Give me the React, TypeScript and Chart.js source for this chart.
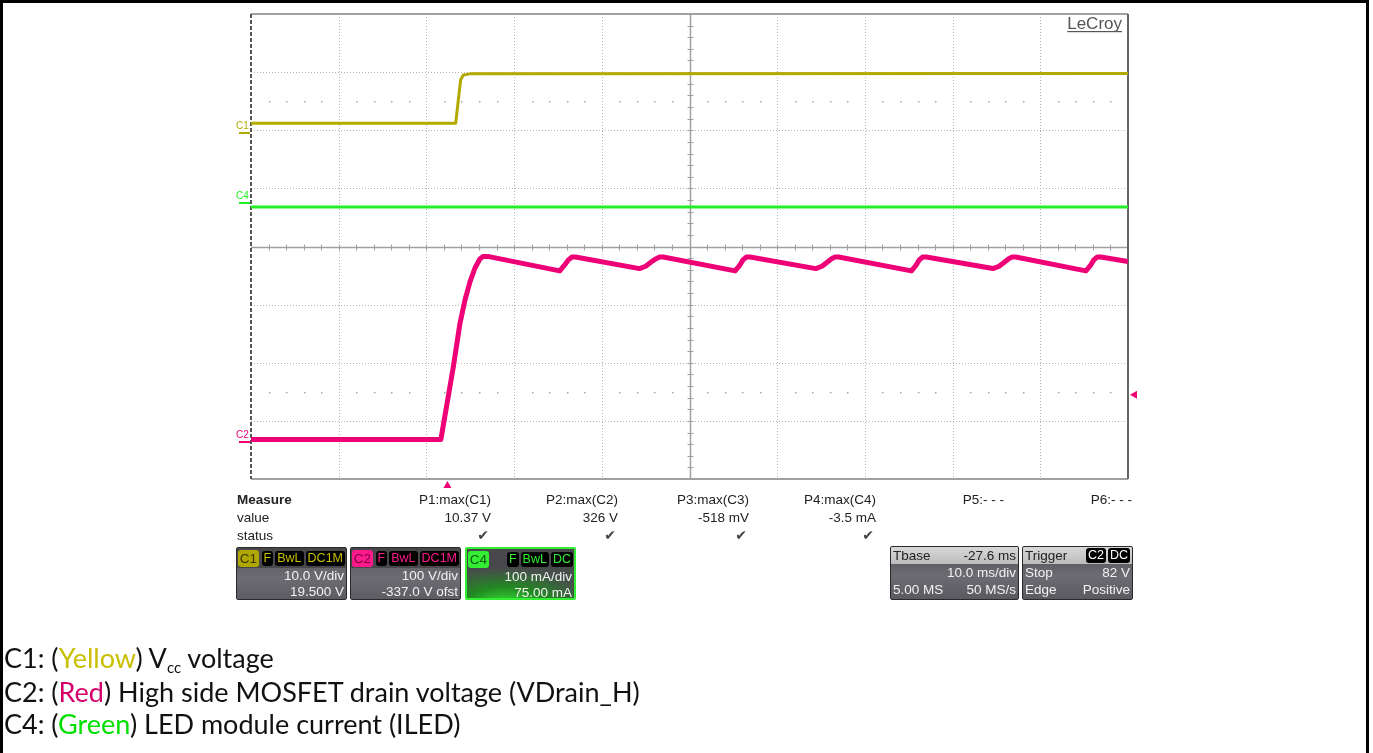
import React, { useEffect, useRef } from "react";
import { Chart, registerables } from "chart.js";

Chart.register(...registerables);

// ---------------- data ----------------
// time base: 10 ms/div, trigger at t = 0 (Tbase -27.6 ms)
const TIME_MIN_MS = -22.4;
const TIME_MAX_MS = 77.6;
const MS_PER_DIV = 10;

// C1: Vcc voltage (V)
const C1_TIME_MS = [-22.4, 0.94, 1.24, 1.51, 1.81, 2.57, 77.6];
const C1_VOLTS = [1.7, 1.7, 5.7, 9.2, 10.0, 10.2, 10.25];

// C4: LED module current (mA)
const C4_TIME_MS = [-22.4, 77.6];
const C4_MA = [-7, -7];

// C2: high side MOSFET drain voltage (V)
const C2_TIME_MS = [
  -22.4, -0.75, 0.67, 1.43, 2.0, 2.57, 3.14, 3.71, 4.1, 4.6,
  12.8, 13.3, 13.8, 14.2, 14.6,
  21.9, 22.6, 23.2, 23.8, 24.2, 24.6,
  32.8, 33.3, 33.7, 34.1, 34.5,
  42.0, 42.7, 43.3, 43.8, 44.2, 44.6,
  52.9, 53.4, 53.8, 54.2, 54.6,
  62.2, 62.9, 63.5, 64.0, 64.4, 64.8,
  72.8, 73.3, 73.7, 74.1, 74.5,
  77.6,
];
const C2_VOLTS = [
  5, 5, 130, 205, 245, 276, 300, 316, 320, 320,
  295, 304, 314, 319, 319,
  299, 303, 310, 316, 319, 319,
  295, 304, 314, 319, 319,
  299, 303, 310, 316, 319, 319,
  295, 304, 314, 319, 319,
  299, 303, 310, 316, 319, 319,
  295, 304, 314, 319, 319,
  311,
];

// channel settings: C1 (V), C2 (V), C4 (mA)
const CHANNELS = ["C1", "C2", "C4"];
const CH_PER_DIV = [10, 100, 100];
const CH_OFFSET = [19.5, -337, 75];
const TRIGGER_LEVEL_V = 82;

// measurement table
const MEASURE_NAMES = ["P1:max(C1)", "P2:max(C2)", "P3:max(C3)", "P4:max(C4)", "P5:- - -", "P6:- - -"];
const MEASURE_VALUES = ["10.37 V", "326 V", "-518 mV", "-3.5 mA", "", ""];
const MEASURE_STATUS = [true, true, true, true, false, false];

// ---------------- styles ----------------
const COL_C1 = "#b3aa00";
const COL_C2 = "#ee0077";
const COL_C4 = "#22ee22";
const SANS = '"Liberation Sans", Arial, sans-serif';

const pts = (xs: number[], ys: number[]) => xs.map((x, i) => ({ x, y: ys[i] }));

const scopePlugin = {
  id: "scope",
  beforeDatasetsDraw(chart: any) {
    const { ctx, chartArea: a, scales } = chart;
    const sx = scales.x;
    const sy = scales.yDiv;
    const line = (x1: number, y1: number, x2: number, y2: number) => {
      ctx.beginPath();
      ctx.moveTo(x1, y1);
      ctx.lineTo(x2, y2);
      ctx.stroke();
    };
    ctx.save();
    // dotted grid
    ctx.strokeStyle = "#b4b4b4";
    ctx.lineWidth = 1;
    ctx.setLineDash([1, 2]);
    for (let k = 1; k < 10; k++) {
      if (k === 5) continue;
      const px = Math.round(sx.getPixelForValue(TIME_MIN_MS + k * MS_PER_DIV)) + 0.5;
      line(px, a.top, px, a.bottom);
    }
    for (let d = -3; d <= 3; d++) {
      if (d === 0) continue;
      const py = Math.round(sy.getPixelForValue(d)) + 0.5;
      line(a.left, py, a.right, py);
    }
    ctx.setLineDash([]);
    // dot rows
    ctx.fillStyle = "#a8a8a8";
    for (const d of [2.5, -2.5]) {
      const py = Math.round(sy.getPixelForValue(d));
      for (let k = 1; k < 50; k++) {
        if (k % 5 === 0) continue;
        const px = Math.round(sx.getPixelForValue(TIME_MIN_MS + k * 2));
        ctx.fillRect(px, py, 1.5, 1.5);
      }
    }
    // center cross with ticks
    ctx.strokeStyle = "#a0a0a0";
    ctx.lineWidth = 1.5;
    const cx = Math.round(sx.getPixelForValue(TIME_MIN_MS + 5 * MS_PER_DIV)) + 0.5;
    const cy = Math.round(sy.getPixelForValue(0)) + 0.5;
    line(a.left, cy, a.right, cy);
    line(cx, a.top, cx, a.bottom);
    ctx.lineWidth = 1;
    for (let k = 1; k < 50; k++) {
      const px = Math.round(sx.getPixelForValue(TIME_MIN_MS + k * 2)) + 0.5;
      line(px, cy - 3, px, cy + 3);
    }
    for (let k = -19; k < 20; k++) {
      const py = Math.round(sy.getPixelForValue(k * 0.2)) + 0.5;
      line(cx - 3, py, cx + 3, py);
    }
    // frame
    ctx.strokeStyle = "#a0a0a0";
    ctx.lineWidth = 2;
    line(a.left, a.top, a.right, a.top);
    line(a.left, a.bottom, a.right, a.bottom);
    ctx.strokeStyle = "#666";
    line(a.right, a.top, a.right, a.bottom);
    ctx.strokeStyle = "#555";
    ctx.setLineDash([4, 2]);
    line(a.left, a.top, a.left, a.bottom);
    ctx.setLineDash([]);
    // LeCroy
    ctx.font = `17px ${SANS}`;
    ctx.fillStyle = "#555";
    ctx.textAlign = "right";
    ctx.textBaseline = "alphabetic";
    ctx.fillText("LeCroy", a.right - 6, a.top + 15);
    const w = ctx.measureText("LeCroy").width;
    ctx.fillRect(a.right - 6 - w, a.top + 17, w, 1.2);
    ctx.restore();
  },
  afterDatasetsDraw(chart: any) {
    const { ctx, chartArea: a, scales } = chart;
    ctx.save();
    const cols = [COL_C1, COL_C2, COL_C4];
    const ids = ["yC1", "yC2", "yC4"];
    ctx.font = `10px ${SANS}`;
    ctx.textAlign = "left";
    ctx.textBaseline = "alphabetic";
    CHANNELS.forEach((name, i) => {
      const gy = Math.round(scales[ids[i]].getPixelForValue(0));
      ctx.fillStyle = cols[i];
      ctx.fillRect(a.left - 12, gy - 1, 11, 2);
      ctx.fillText(name, a.left - 15, gy - 4);
    });
    // trigger position marker
    ctx.fillStyle = COL_C2;
    const tx = scales.x.getPixelForValue(0);
    ctx.beginPath();
    ctx.moveTo(tx, a.bottom + 2);
    ctx.lineTo(tx - 4, a.bottom + 9);
    ctx.lineTo(tx + 4, a.bottom + 9);
    ctx.closePath();
    ctx.fill();
    // trigger level marker
    const ty = scales.yC2.getPixelForValue(TRIGGER_LEVEL_V);
    ctx.beginPath();
    ctx.moveTo(a.right + 2, ty);
    ctx.lineTo(a.right + 9, ty - 4);
    ctx.lineTo(a.right + 9, ty + 4);
    ctx.closePath();
    ctx.fill();
    ctx.restore();
  },
};

function ScopeChart() {
  const ref = useRef<HTMLCanvasElement | null>(null);
  useEffect(() => {
    if (!ref.current) return;
    const axis = (i: number) => ({
      type: "linear" as const,
      display: false,
      min: -4 * CH_PER_DIV[i] - CH_OFFSET[i],
      max: 4 * CH_PER_DIV[i] - CH_OFFSET[i],
    });
    const ds = (label: string, data: any, yAxisID: string, color: string, width: number) => ({
      label,
      data,
      yAxisID,
      showLine: true,
      borderColor: color,
      backgroundColor: color,
      borderWidth: width,
      pointRadius: 0,
      tension: 0,
      borderJoinStyle: "round" as const,
    });
    const chart = new Chart(ref.current, {
      type: "scatter",
      data: {
        datasets: [
          ds("C4", pts(C4_TIME_MS, C4_MA), "yC4", COL_C4, 3),
          ds("C1", pts(C1_TIME_MS, C1_VOLTS), "yC1", COL_C1, 3),
          ds("C2", pts(C2_TIME_MS, C2_VOLTS), "yC2", COL_C2, 5),
        ],
      },
      options: {
        responsive: false,
        animation: false,
        devicePixelRatio: 1,
        events: [],
        layout: { padding: { left: 251, top: 14, right: 245, bottom: 274 } },
        plugins: { legend: { display: false }, tooltip: { enabled: false } },
        scales: {
          x: { type: "linear", display: false, min: TIME_MIN_MS, max: TIME_MAX_MS },
          yDiv: { type: "linear", display: false, min: -4, max: 4 },
          yC1: axis(0),
          yC2: axis(1),
          yC4: axis(2),
        },
      } as any,
      plugins: [scopePlugin],
    });
    return () => chart.destroy();
  }, []);
  return (
    <canvas
      ref={ref}
      width={1373}
      height={753}
      style={{ position: "absolute", left: 0, top: 0, width: 1373, height: 753 }}
    />
  );
}

const Badge = ({ text, color, bg = "#000" }: { text: string; color: string; bg?: string }) => (
  <span
    style={{
      background: bg,
      color,
      borderRadius: 3,
      padding: "0 2px",
      marginLeft: 2,
      height: 15,
      lineHeight: "15px",
      fontSize: 12.5,
      display: "inline-block",
    }}
  >
    {text}
  </span>
);

function ChannelBox(props: {
  left: number;
  label: string;
  labelBg: string;
  labelColor: string;
  accent: string;
  badges: string[];
  line2: string;
  line3: string;
  glow?: boolean;
}) {
  const { left, label, labelBg, labelColor, accent, badges, line2, line3, glow } = props;
  return (
    <div
      style={{
        position: "absolute",
        left,
        top: 547,
        width: 111,
        height: 53,
        boxSizing: "border-box",
        border: glow ? `2px solid ${accent}` : "1px solid #2a2a2a",
        borderRadius: 2,
        background: glow
          ? "radial-gradient(ellipse 90% 80% at 35% 110%, #33dd33 0%, #228822 40%, #46504a 85%)"
          : "linear-gradient(#55555a, #6c6c72 60%, #5c5c62)",
        fontFamily: SANS,
        fontSize: 13.5,
        color: "#f2f2f2",
        overflow: "hidden",
      }}
    >
      <div
        style={{
          display: "flex",
          alignItems: "center",
          height: 20,
          background: "#48484c",
          padding: "0 1px",
        }}
      >
        <span
          style={{
            background: labelBg,
            color: labelColor,
            width: 21,
            height: 17,
            lineHeight: "17px",
            borderRadius: 3,
            textAlign: "center",
            fontSize: 13.5,
          }}
        >
          {label}
        </span>
        <span style={{ flex: 1 }} />
        {badges.map((b) => (
          <Badge key={b} text={b} color={accent} />
        ))}
      </div>
      <div style={{ textAlign: "right", paddingRight: 2, height: 16, lineHeight: "16px" }}>{line2}</div>
      <div style={{ textAlign: "right", paddingRight: 2, height: 16, lineHeight: "16px" }}>{line3}</div>
    </div>
  );
}

function InfoBox(props: {
  left: number;
  width: number;
  title: string;
  titleRight: React.ReactNode;
  rows: [string, string][];
}) {
  const { left, width, title, titleRight, rows } = props;
  return (
    <div
      style={{
        position: "absolute",
        left,
        top: 546,
        width,
        height: 54,
        boxSizing: "border-box",
        border: "1px solid #2a2a2a",
        borderRadius: 2,
        background: "linear-gradient(#4c4c52, #6c6c72 55%, #5a5a60)",
        fontFamily: SANS,
        fontSize: 13.5,
        color: "#f2f2f2",
        overflow: "hidden",
      }}
    >
      <div
        style={{
          display: "flex",
          alignItems: "center",
          height: 17,
          background: "linear-gradient(#d8d8d8, #bcbcbc)",
          color: "#222",
          padding: "0 2px",
        }}
      >
        <span>{title}</span>
        <span style={{ flex: 1 }} />
        {titleRight}
      </div>
      {rows.map(([l, r], i) => (
        <div key={i} style={{ display: "flex", height: 17, lineHeight: "17px", padding: "0 2px" }}>
          <span>{l}</span>
          <span style={{ flex: 1 }} />
          <span>{r}</span>
        </div>
      ))}
    </div>
  );
}

const COL_RIGHT_EDGES = [491, 618, 749, 876, 1004, 1132];

export default function App() {
  const txt = (extra: React.CSSProperties): React.CSSProperties => ({
    position: "absolute",
    fontFamily: SANS,
    fontSize: 13.5,
    lineHeight: "15px",
    color: "#222",
    whiteSpace: "nowrap",
    ...extra,
  });
  const capLine: React.CSSProperties = {
    position: "absolute",
    left: 4,
    fontFamily: "Lato, 'Open Sans', sans-serif",
    fontSize: 27,
    lineHeight: "34px",
    color: "#111",
    whiteSpace: "nowrap",
  };
  return (
    <div
      style={{
        position: "fixed",
        left: 0,
        top: 0,
        width: 1373,
        height: 753,
        background: "#fff",
        overflow: "hidden",
      }}
    >
      <ScopeChart />
      {/* table frame */}
      <div style={{ position: "absolute", left: 0, top: 0, width: 1369, height: 3, background: "#000" }} />
      <div style={{ position: "absolute", left: 0, top: 0, width: 3, height: 753, background: "#000" }} />
      <div style={{ position: "absolute", left: 1366, top: 0, width: 3, height: 753, background: "#000" }} />

      {/* measurement area */}
      <div style={txt({ left: 237, top: 492, fontWeight: "bold" })}>Measure</div>
      <div style={txt({ left: 237, top: 510 })}>value</div>
      <div style={txt({ left: 237, top: 528 })}>status</div>
      {MEASURE_NAMES.map((n, i) => (
        <React.Fragment key={n}>
          <div style={txt({ right: 1373 - COL_RIGHT_EDGES[i], top: 492 })}>{n}</div>
          <div style={txt({ right: 1373 - COL_RIGHT_EDGES[i], top: 510 })}>{MEASURE_VALUES[i]}</div>
          {MEASURE_STATUS[i] && (
            <div
              style={txt({
                right: 1373 - COL_RIGHT_EDGES[i] + 2,
                top: 528,
                fontFamily: "'DejaVu Sans', sans-serif",
                fontSize: 14,
                color: "#444",
              })}
            >
              ✔
            </div>
          )}
        </React.Fragment>
      ))}

      <ChannelBox
        left={236}
        label="C1"
        labelBg="#b0a800"
        labelColor="#3a3600"
        accent="#c8bf00"
        badges={["F", "BwL", "DC1M"]}
        line2="10.0 V/div"
        line3="19.500 V"
      />
      <ChannelBox
        left={350}
        label="C2"
        labelBg="#ff1a8c"
        labelColor="#7a0040"
        accent="#ff1a8c"
        badges={["F", "BwL", "DC1M"]}
        line2="100 V/div"
        line3="-337.0 V ofst"
      />
      <ChannelBox
        left={465}
        label="C4"
        labelBg="#33ee33"
        labelColor="#0b5a0b"
        accent="#33ee33"
        badges={["F", "BwL", "DC"]}
        line2="100 mA/div"
        line3="75.00 mA"
        glow
      />
      <InfoBox
        left={890}
        width={129}
        title="Tbase"
        titleRight={<span>-27.6 ms</span>}
        rows={[
          ["", "10.0 ms/div"],
          ["5.00 MS", "50 MS/s"],
        ]}
      />
      <InfoBox
        left={1022}
        width={111}
        title="Trigger"
        titleRight={
          <>
            <Badge text="C2" color="#fff" />
            <Badge text="DC" color="#fff" />
          </>
        }
        rows={[
          ["Stop", "82 V"],
          ["Edge", "Positive"],
        ]}
      />

      {/* caption */}
      <div style={{ ...capLine, top: 641 }}>
        C1: (<span style={{ color: "#c8bf00" }}>Yellow</span>) V
        <span style={{ fontSize: 15, position: "relative", top: 5 }}>cc</span> voltage
      </div>
      <div style={{ ...capLine, top: 675 }}>
        C2: (<span style={{ color: "#d4006a" }}>Red</span>) High side MOSFET drain voltage (VDrain_H)
      </div>
      <div style={{ ...capLine, top: 707 }}>
        C4: (<span style={{ color: "#00e000" }}>Green</span>) LED module current (ILED)
      </div>
    </div>
  );
}
